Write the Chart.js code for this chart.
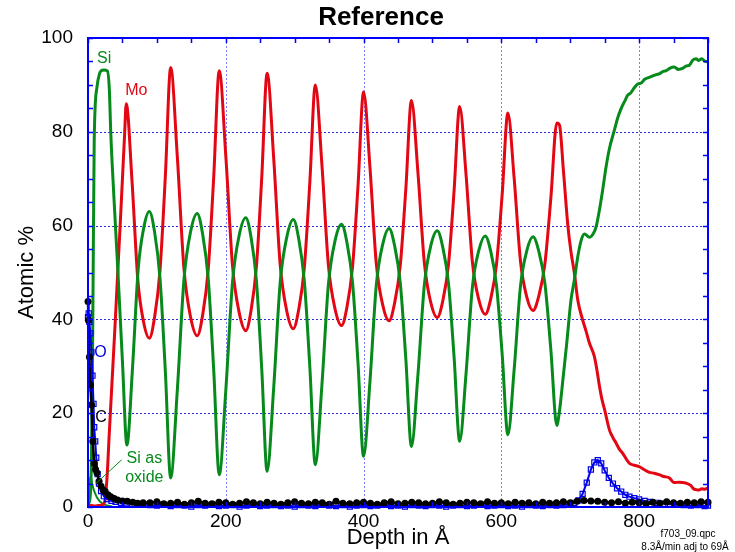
<!DOCTYPE html>
<html>
<head>
<meta charset="utf-8">
<script src="https://cdn.jsdelivr.net/npm/chart.js@4"></script>
<style>
  html, body { margin: 0; padding: 0; background: #fff; }
  #wrap { width: 735px; height: 552px; }
</style>
</head>
<body>
<div id="wrap"><canvas id="depth" width="735" height="552"></canvas></div>
<script>
// axis ticks
const xTicks = [0, 200, 400, 600, 800];
const yTicks = [0, 20, 40, 60, 80, 100];

// Si (green) - depth in A / atomic %
const siDepth = [0, 3, 5, 7, 9, 13, 17, 19, 23, 28, 31, 33, 38, 43.5, 50, 56.5,
  64.6, 72.8, 80.9, 89, 96.8, 104.5, 112.3, 120,
  129.6, 139.3, 148.9, 158.5, 166.5, 174.5, 182.5, 190.5,
  200.1, 209.8, 219.4, 229, 236.8, 244.5, 252.3, 260,
  269.5, 279, 288.5, 298, 306, 314, 322, 330,
  339.5, 349, 358.5, 368, 376, 384, 392, 400,
  409.3, 418.5, 427.8, 437, 445.1, 453.3, 461.4, 469.5,
  478.9, 488.3, 497.6, 507, 515.1, 523.3, 531.4, 539.5,
  548.8, 558, 567.3, 576.5, 584.8, 593, 601.3, 609.5,
  618.6, 627.8, 636.9, 646, 654.6, 663.3, 671.9, 680.5,
  684, 690, 695, 701, 706, 711, 716, 720.7, 728, 735, 738, 742, 747, 752, 757, 764, 769, 774, 779,
  783.5, 788, 793, 798, 803, 808, 812.5, 818, 824.6, 830, 835, 839, 845, 851, 857, 863, 868, 873,
  878, 882.6, 886, 891, 895, 899];
const siVal = [0.5, 2, 10, 40, 78, 89.5, 92.5, 93, 93.2, 93, 89, 80, 65, 50, 31, 13.2,
  29.6, 50.6, 59.5, 63, 58.5, 48.8, 28.9, 6.2,
  24.8, 48.5, 58.7, 62.6, 58.1, 48.7, 29.2, 6.9,
  25.0, 48.0, 57.9, 61.7, 57.4, 48.2, 29.2, 7.6,
  25.3, 47.9, 57.5, 61.3, 57.1, 48.2, 29.9, 9.0,
  25.9, 47.5, 56.7, 60.3, 56.3, 47.9, 30.6, 10.8,
  26.8, 47.3, 56.0, 59.4, 55.7, 47.8, 31.5, 12.9,
  28.1, 47.4, 55.7, 58.9, 55.3, 47.7, 32.0, 14.0,
  28.5, 46.9, 54.7, 57.8, 54.4, 47.2, 32.4, 15.4,
  29.3, 47.1, 54.6, 57.6, 54.4, 47.6, 33.5, 17.4,
  20, 28, 35, 44, 48.4, 53.4, 56.9, 58.2, 57.5, 58.7, 60, 63, 67.5, 72.5, 76.5, 80.3, 83, 85, 86.5,
  87.8, 88.3, 89.4, 90.2, 90.4, 91.2, 91.5, 91.8, 92.2, 92.4, 92.9, 93, 93.6, 93.8, 93.3, 93.5, 94, 94.2,
  95.3, 95.6, 95.2, 95.6, 95.1, 94.9];

// Mo (red)
const moDepth = [0, 5, 10, 15, 20, 24, 27.5, 31, 35, 39, 43.5, 47, 50, 53, 55.5,
  63.9, 72.3, 80.6, 89, 96.8, 104.5, 112.3, 120,
  129.6, 139.3, 148.9, 158.5, 166.5, 174.5, 182.5, 190.5,
  200.1, 209.8, 219.4, 229, 236.8, 244.5, 252.3, 260,
  269.5, 279, 288.5, 298, 306, 314, 322, 330,
  339.5, 349, 358.5, 368, 376, 384, 392, 400,
  409.3, 418.5, 427.8, 437, 445.1, 453.3, 461.4, 469.5,
  478.9, 488.3, 497.6, 507, 515.1, 523.3, 531.4, 539.5,
  548.8, 558, 567.3, 576.5, 584.8, 593, 601.3, 609.5,
  618.6, 627.8, 636.9, 646, 654.6, 663.3, 671.9, 680.5,
  684.5, 690, 696.5, 701, 706, 711, 718, 723, 728, 735, 739, 742.5, 746, 750, 757, 762, 766.7,
  771, 776, 781, 786, 793, 800, 807, 815, 822, 829, 836, 844, 848, 851, 858, 868, 875, 879,
  882.6, 887, 891, 895, 899];
const moVal = [0.3, 0.3, 0.2, 0.3, 0.4, 1, 6, 16, 27, 38, 51, 61, 70, 79, 86,
  69.5, 48.5, 39.5, 36, 40.6, 50.4, 70.6, 93.7,
  74.8, 50.8, 40.5, 36.5, 41, 50.6, 70.4, 93,
  74.7, 51.4, 41.5, 37.6, 42, 51.3, 70.5, 92.5,
  74.5, 51.6, 41.8, 38, 42.2, 51, 69.2, 90,
  73.1, 51.5, 42.3, 38.7, 42.7, 51.2, 68.6, 88.5,
  72.4, 51.9, 43.1, 39.7, 43.5, 51.5, 67.9, 86.7,
  71.4, 52, 43.6, 40.4, 44, 51.7, 67.4, 85.4,
  70.8, 52.2, 44.2, 41.1, 44.5, 51.8, 66.8, 84,
  70.1, 52.4, 44.8, 41.9, 45.1, 51.9, 65.9, 81.9,
  81.4, 72, 60.1, 54.5, 49.9, 44.1, 39.9, 37.5, 34.9, 32.1, 29, 25.7, 23, 20.7, 16.4, 14.8, 13.6,
  12.4, 11.5, 10.3, 9.3, 8.9, 8.6, 8, 7.4, 7.2, 6.9, 6.5, 6.2, 5.5, 5.2, 5.3, 5.1, 4.6, 3.9,
  3.7, 3.6, 3.9, 3.8, 4.0];

// O (blue squares)
const oDepth = [0, 1, 2, 3.5, 5, 6.5, 8, 9, 10.5, 12, 14, 16, 19, 23, 28, 34, 40, 48, 56, 64, 72, 80,
  90, 100, 110, 120, 130, 140, 150, 160, 170, 180, 190, 200, 210, 220, 230, 240, 250, 260, 270, 280,
  290, 300, 310, 320, 330, 340, 350, 360, 370, 380, 390, 400, 410, 420, 430, 440, 450, 460, 470, 480,
  490, 500, 510, 520, 530, 540, 550, 560, 570, 580, 590, 600, 610, 620, 630, 640, 650, 660, 670, 680,
  690, 700, 706, 712, 718, 724, 730, 735, 740, 745, 750, 756, 762, 768, 774, 780, 786, 793, 800, 808,
  816, 825, 835, 845, 855, 865, 875, 885, 895, 900];
const oVal = [40.5, 41.3, 39.5, 37, 33, 28, 22, 17, 14, 10.5, 7, 5, 3.4, 2.3, 1.7, 1.3, 1.1, 0.9, 0.8, 0.7, 0.6, 0.6,
  0.4, 0.3, 0.5, 0.2, 0.4, 0.3, 0.1, 0.4, 0.3, 0.5, 0.2, 0.3, 0.4, 0.1, 0.3, 0.5, 0.2, 0.3, 0.4, 0.2,
  0.3, 0.1, 0.4, 0.3, 0.2, 0.5, 0.3, 0.2, 0.4, 0.1, 0.3, 0.4, 0.2, 0.3, 0.5, 0.2, 0.3, 0.1, 0.4, 0.3,
  0.2, 0.4, 0.3, 0.1, 0.3, 0.4, 0.2, 0.3, 0.5, 0.2, 0.3, 0.4, 0.2, 0.3, 0.1, 0.4, 0.3, 0.2, 0.4, 0.3,
  0.4, 0.6, 0.9, 1.4, 2.8, 5.2, 8, 9.5, 10, 9.3, 7.8, 6.2, 5, 4, 3.3, 2.6, 2.2, 1.9, 1.6, 1.3,
  1.1, 0.9, 0.7, 0.6, 0.5, 0.4, 0.3, 0.4, 0.2, 0.3];

// C (black dots)
const cDepth = [0, 0.6, 2, 3.5, 5, 7, 9, 11, 13, 16, 19, 22, 25, 29, 33, 38, 43, 50, 57, 65, 72, 80,
  90, 100, 110, 120, 130, 140, 150, 160, 170, 180, 190, 200, 210, 220, 230, 240, 250, 260, 270, 280,
  290, 300, 310, 320, 330, 340, 350, 360, 370, 380, 390, 400, 410, 420, 430, 440, 450, 460, 470, 480,
  490, 500, 510, 520, 530, 540, 550, 560, 570, 580, 590, 600, 610, 620, 630, 640, 650, 660, 670, 680,
  690, 700, 710, 720, 730, 740, 750, 760, 770, 780, 790, 800, 810, 820, 830, 840, 850, 860, 870, 880,
  890, 900];
const cVal = [43.8, 39.8, 32, 26, 21.8, 14, 9.3, 8, 7.3, 5.5, 4.4, 3.6, 3.3, 2.6, 2.2, 1.8, 1.5, 1.3, 1.2, 1, 0.8, 0.9,
  0.9, 1.1, 0.7, 0.8, 1.0, 0.6, 0.9, 1.2, 0.8, 0.7, 1.0, 0.9, 0.6, 0.8, 1.1, 0.9, 0.7, 1.0, 0.8, 0.6,
  0.9, 1.1, 0.8, 0.7, 1.0, 0.9, 0.6, 1.2, 0.8, 0.7, 0.9, 1.0, 0.8, 0.6, 0.9, 1.1, 0.7, 0.8, 1.0, 0.9,
  0.7, 0.8, 1.1, 0.9, 0.6, 0.8, 1.0, 0.9, 0.7, 1.1, 0.8, 0.9, 0.7, 1.0, 0.8, 0.9, 0.7, 1.0, 0.8, 0.9,
  1.1, 0.9, 1.2, 1.4, 1.3, 1.2, 1.0, 0.9, 1.1, 0.8, 1.0, 0.9, 0.7, 1.0, 0.8, 1.1, 0.9, 0.8, 1.0, 0.9,
  1.1, 1.0];

// Si as oxide (green, thin)
const siOxDepth = [0, 2, 4, 6, 8, 10, 13, 17, 22, 28, 35];
const siOxVal = [3, 5.5, 6.5, 5, 3.8, 3, 2, 1.2, 0.6, 0.3, 0.1];

const GREEN = '#078a1c';
const RED = '#e30613';
const BLUE = '#0000e8';
const AXIS = '#0000ff';

Chart.defaults.font.family = "'Liberation Sans', Arial, sans-serif";
Chart.defaults.color = '#000';

function pts(xs, ys) {
  const out = [];
  for (let i = 0; i < Math.min(xs.length, ys.length); i++) out.push({x: xs[i], y: ys[i]});
  return out;
}

// dotted blue grid, frame, inward ticks, curve labels and notes
const frame = {
  id: 'frame',
  beforeDatasetsDraw(chart) {
    const {ctx, chartArea: a, scales: {x, y}} = chart;
    ctx.save();
    ctx.lineWidth = 1;
    ctx.setLineDash([2, 2]);
    ctx.strokeStyle = '#7c7cff';
    ctx.beginPath();
    for (const v of xTicks) {
      const px = Math.round(x.getPixelForValue(v)) + 0.5;
      ctx.moveTo(px, a.top); ctx.lineTo(px, a.bottom);
    }
    ctx.stroke();
    ctx.strokeStyle = '#2b2bdc';
    ctx.beginPath();
    for (const v of yTicks) {
      const py = Math.round(y.getPixelForValue(v)) + 0.5;
      ctx.moveTo(a.left, py); ctx.lineTo(a.right, py);
    }
    ctx.stroke();
    ctx.restore();
  },
  afterDatasetsDraw(chart) {
    const {ctx, chartArea: a, scales: {x, y}} = chart;
    ctx.save();
    ctx.strokeStyle = AXIS;
    ctx.lineWidth = 1.5;
    ctx.beginPath();
    for (let v = 0; v <= 900; v += 50) {
      const px = Math.round(x.getPixelForValue(v)) + 0.5;
      ctx.moveTo(px, a.bottom); ctx.lineTo(px, a.bottom - 5);
      ctx.moveTo(px, a.top); ctx.lineTo(px, a.top + 5);
    }
    for (let v = 0; v <= 100; v += 5) {
      const py = Math.round(y.getPixelForValue(v)) + 0.5;
      ctx.moveTo(a.left, py); ctx.lineTo(a.left + 5, py);
      ctx.moveTo(a.right, py); ctx.lineTo(a.right - 5, py);
    }
    ctx.stroke();
    ctx.lineWidth = 2;
    ctx.strokeRect(a.left, a.top, a.right - a.left, a.bottom - a.top);
    ctx.restore();
  },
  afterDraw(chart) {
    const {ctx, scales: {x, y}} = chart;
    ctx.save();
    ctx.textBaseline = 'alphabetic';
    ctx.textAlign = 'left';
    const lab = (t, dx, dy, col, size) => {
      ctx.fillStyle = col;
      ctx.font = size + "px 'Liberation Sans', Arial, sans-serif";
      ctx.fillText(t, x.getPixelForValue(dx), y.getPixelForValue(dy));
    };
    lab('Si', 13, 94.6, GREEN, 16);
    lab('Mo', 54, 87.8, RED, 16);
    lab('O', 9, 32, BLUE, 16);
    lab('C', 10.5, 18.1, '#000', 16);
    lab('Si as', 56, 9.35, GREEN, 16);
    lab('oxide', 54, 5.4, GREEN, 16);
    ctx.strokeStyle = GREEN;
    ctx.lineWidth = 1;
    ctx.beginPath();
    ctx.moveTo(x.getPixelForValue(48.8), y.getPixelForValue(10.05));
    ctx.lineTo(x.getPixelForValue(10.6), y.getPixelForValue(4.9));
    ctx.stroke();

    ctx.fillStyle = '#000';
    ctx.textAlign = 'center';
    ctx.font = "bold 26px 'Liberation Sans', Arial, sans-serif";
    ctx.textBaseline = 'middle';
    ctx.fillText('Reference', 381, 18);
    ctx.textBaseline = 'alphabetic';
    ctx.font = "10px 'Liberation Sans', Arial, sans-serif";
    ctx.fillText('f703_09.qpc', 688, 537);
    ctx.fillText('8.3Å/min adj to 69Å', 685, 550);
    ctx.restore();
  }
};

const chart = new Chart(document.getElementById('depth'), {
  type: 'line',
  data: {
    datasets: [
      { label: 'C', data: pts(cDepth, cVal), borderColor: '#000', backgroundColor: '#000',
        borderWidth: 2.5, pointRadius: 3.5, pointBorderWidth: 0, pointStyle: 'circle', clip: false },
      { label: 'O', data: pts(oDepth, oVal), borderColor: BLUE, backgroundColor: 'rgba(0,0,0,0)',
        borderWidth: 2, pointRadius: 3.6, pointBorderWidth: 1.2, pointStyle: 'rect', clip: false },
      { label: 'Si', data: pts(siDepth, siVal), borderColor: GREEN, borderWidth: 3, pointRadius: 0,
        cubicInterpolationMode: 'monotone' },
      { label: 'Mo', data: pts(moDepth, moVal), borderColor: RED, borderWidth: 3, pointRadius: 0,
        cubicInterpolationMode: 'monotone' },
      { label: 'Si as oxide', data: pts(siOxDepth, siOxVal), borderColor: GREEN, borderWidth: 2, pointRadius: 0 }
    ]
  },
  options: {
    responsive: false,
    animation: false,
    devicePixelRatio: 1,
    layout: { padding: { top: 38, right: 27, left: 0, bottom: 0 } },
    elements: { line: { tension: 0, fill: false } },
    plugins: {
      legend: { display: false },
      tooltip: { enabled: false },
      title: { display: false }
    },
    scales: {
      x: {
        type: 'linear', min: 0, max: 900,
        afterFit: s => { s.height = 45; },
        afterBuildTicks: s => { s.ticks = xTicks.map(v => ({value: v})); },
        ticks: { font: { size: 19 }, color: '#000', padding: 3, maxRotation: 0 },
        grid: { display: false, drawTicks: false },
        border: { display: false },
        title: { display: true, text: 'Depth in Å', font: { size: 22 }, color: '#000', padding: { top: 0, bottom: 1 } }
      },
      y: {
        type: 'linear', min: 0, max: 100,
        afterFit: s => { s.width = 88; },
        afterBuildTicks: s => { s.ticks = yTicks.map(v => ({value: v})); },
        ticks: { font: { size: 19 }, color: '#000', padding: 15 },
        grid: { display: false, drawTicks: false },
        border: { display: false },
        title: { display: true, text: 'Atomic %', font: { size: 22 }, color: '#000', padding: { top: 14, bottom: 0 } }
      }
    }
  },
  plugins: [frame]
});
</script>
</body>
</html>
